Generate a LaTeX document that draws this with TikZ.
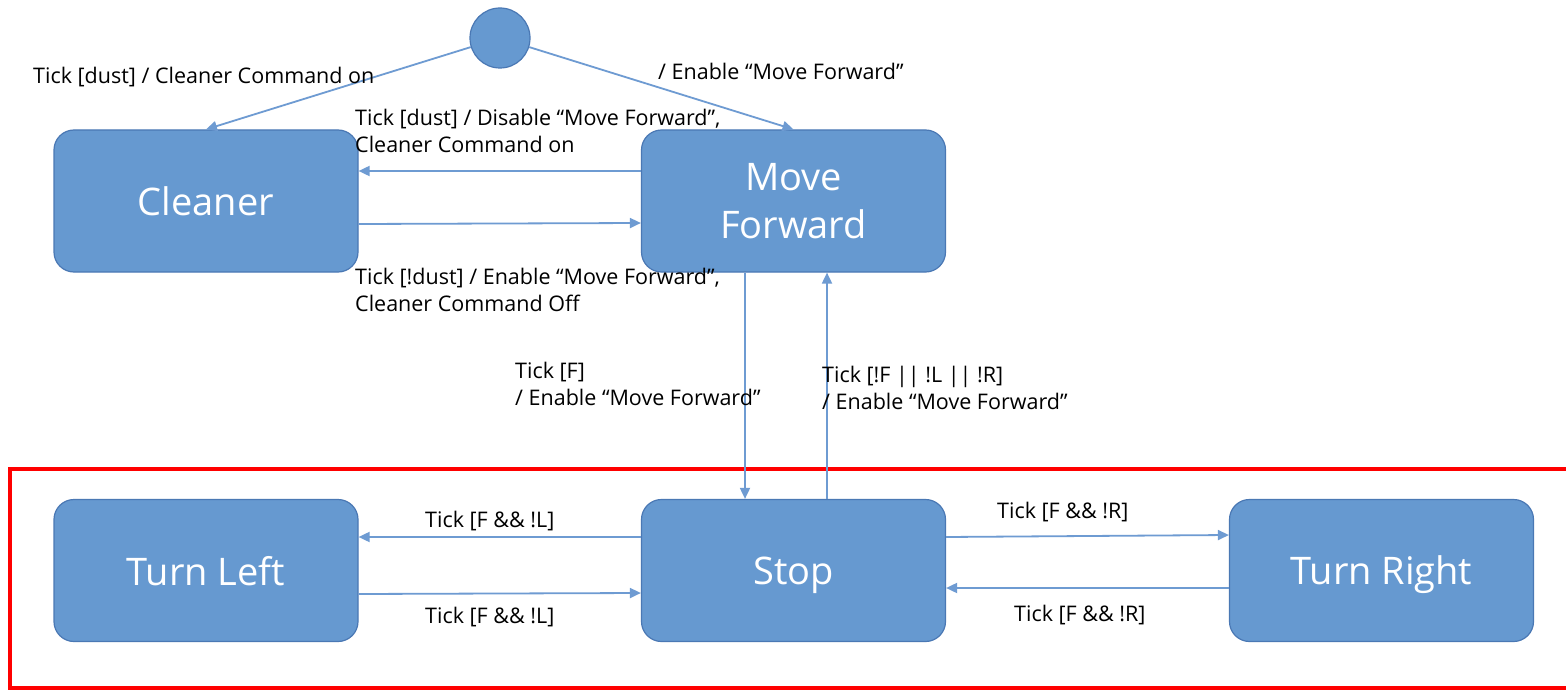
\documentclass[tikz,border=0pt]{standalone}
\usepackage{fontspec}
\setmainfont{Open Sans}
\usetikzlibrary{arrows.meta}
\definecolor{statefill}{RGB}{102,153,208}
\definecolor{stateedge}{RGB}{74,120,180}
\definecolor{wire}{RGB}{110,155,210}
\tikzset{
  state/.style={draw=stateedge, line width=1.2pt, fill=statefill, rounded corners=20pt,
    minimum width=304pt, minimum height=142pt, text=white, align=center,
    font=\fontsize{38}{48}\selectfont, inner sep=0pt, text depth=0pt},
  initial/.style={circle, draw=stateedge, line width=1.2pt, fill=statefill, minimum size=60pt, inner sep=0pt},
  trans/.style={draw=wire, line width=1.8pt, -{Triangle[length=11pt,width=10pt]}},
  lbl/.style={anchor=west, align=left, inner sep=0pt, text=black,
    font=\fontsize{21.5}{27.5}\selectfont},
  frame/.style={draw=red, line width=3.5pt}
}
\begin{document}
\begin{tikzpicture}[x=1pt,y=-1pt]
  \clip (0,0) rectangle (1566,690);
  \fill[white] (0,0) rectangle (1566,690);

  % highlighted lower region
  \draw[frame] (10,469) rectangle (1580,688);

  % states
  \node[initial] (init) at (500,38) {};
  \node[state] (cl) at (206,201) {Cleaner};
  \node[state] (mf) at (793.5,201) {Move\\Forward};
  \node[state] (tl) at (206,570.5) {Turn Left};
  \node[state] (st) at (793.5,570.5) {Stop};
  \node[state] (tr) at (1381.5,570.5) {Turn Right};

  % transitions
  \draw[trans] (init) -- (cl.north);
  \draw[trans] (init) -- (mf.north);
  \draw[trans] (mf.west |- 0,171) -- (cl.east |- 0,171);
  \draw[trans] (cl.east |- 0,224) -- (mf.west |- 0,223);
  \draw[trans] (mf.south -| 745,0) -- (st.north -| 745,0);
  \draw[trans] (st.north -| 827,0) -- (mf.south -| 827,0);
  \draw[trans] (st.west |- 0,537) -- (tl.east |- 0,537);
  \draw[trans] (tl.east |- 0,594) -- (st.west |- 0,593);
  \draw[trans] (st.east |- 0,537) -- (tr.west |- 0,535);
  \draw[trans] (tr.west |- 0,588) -- (st.east |- 0,588);

  % transition labels
  \node[lbl] (l1) at (33,77) {Tick [dust] / Cleaner Command on};
  \node[lbl] (l2) at (658,71) {/ Enable “Move Forward”};
  \node[lbl] (l3) at (355,131) {Tick [dust] / Disable “Move Forward”,\\Cleaner Command on};
  \node[lbl] (l4) at (355,290) {Tick [!dust] / Enable “Move Forward”,\\Cleaner Command Off};
  \node[lbl] (l5) at (515,384) {Tick [F]\\/ Enable “Move Forward”};
  \node[lbl] (l6) at (822,388) {Tick [!F || !L || !R]\\/ Enable “Move Forward”};
  \node[lbl] (l7) at (425,521) {Tick [F \&\& !L]};
  \node[lbl] (l8) at (425,617) {Tick [F \&\& !L]};
  \node[lbl] (l9) at (997,512) {Tick [F \&\& !R]};
  \node[lbl] (l10) at (1014,615) {Tick [F \&\& !R]};
\end{tikzpicture}
\end{document}
